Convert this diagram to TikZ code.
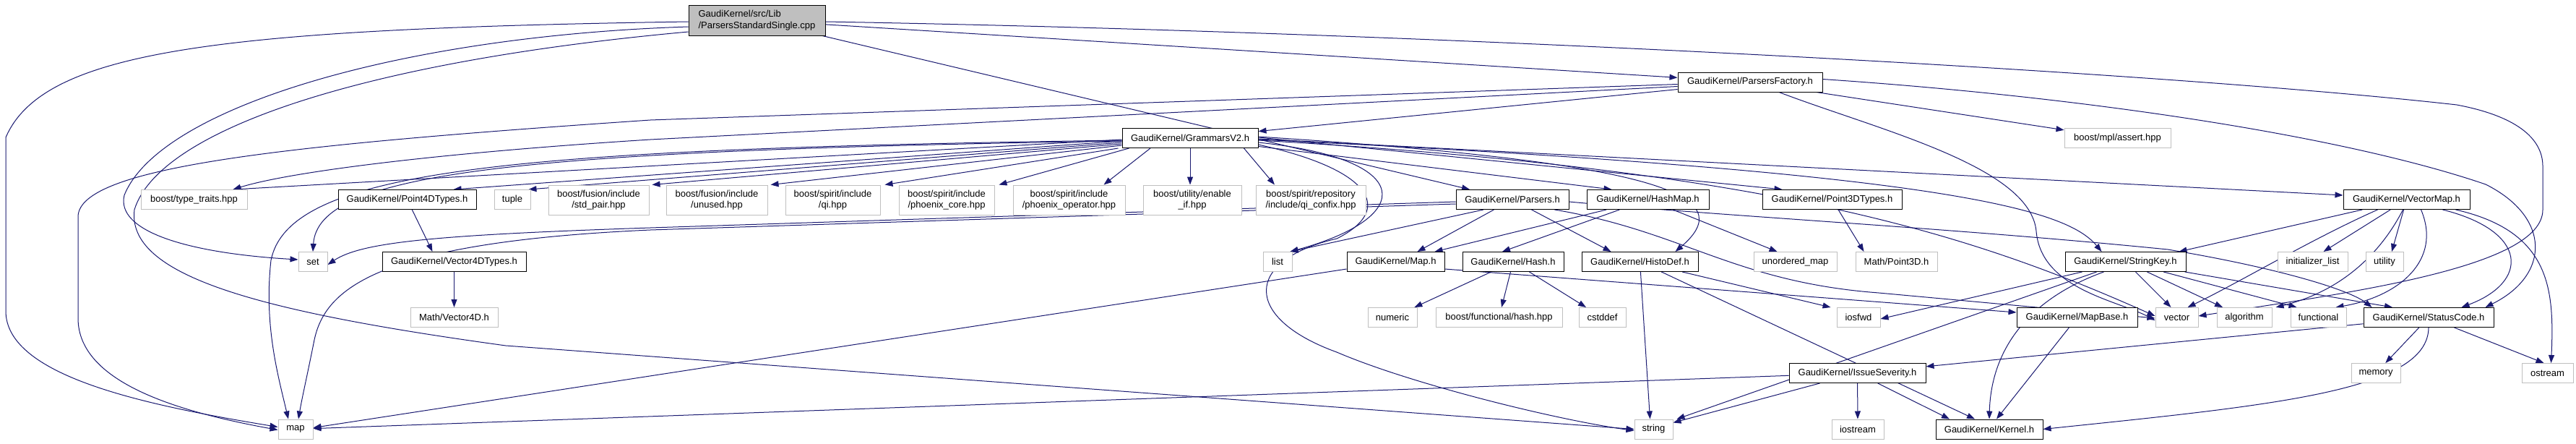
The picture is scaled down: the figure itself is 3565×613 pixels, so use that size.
\documentclass[tikz,border=0pt]{standalone}
\usepackage{fontspec}
\setmainfont{Liberation Sans}
\usetikzlibrary{arrows.meta,backgrounds}
\definecolor{edgeblue}{RGB}{25,25,112}
\definecolor{sysgray}{RGB}{191,191,191}
\tikzstyle{inc edge}=[-{Triangle[length=11pt,width=8pt]},edgeblue,line width=1pt]
\tikzstyle{file node}=[rectangle,draw=black,fill=white,line width=1pt,inner sep=0pt,minimum height=27pt,font=\fontsize{13}{15.5}\selectfont,align=center]
\tikzstyle{sys node}=[draw=sysgray]
\tikzstyle{two lines}=[minimum height=41pt]
\newcommand{\incnode}[3][]{
  \node [file node, #1] (#2) {#3}
}

\begin{document}
\begin{tikzpicture}[x=1pt,y=-1pt]
\useasboundingbox (0,0) rectangle (3565,613);
        \incnode[two lines, fill=sysgray, align=left, minimum height=42pt, at={(1047.5,28)}, minimum width=189pt]{root}{GaudiKernel/src/Lib\\/ParsersStandardSingle.cpp};
        \incnode[at={(2422,113.5)}, minimum width=200pt]{pfac}{GaudiKernel/ParsersFactory.h};
        \incnode[at={(1647,191)}, minimum width=188pt]{gram}{GaudiKernel/GrammarsV2.h};
        \incnode[sys node, at={(2930.5,191)}, minimum width=147pt]{assert}{boost/mpl/assert.hpp};

        \incnode[sys node, at={(268.5,276)}, minimum width=147pt]{ttraits}{boost/type\_traits.hpp};
        \incnode[at={(563.5,276)}, minimum width=191pt]{p4d}{GaudiKernel/Point4DTypes.h};
        \incnode[sys node, at={(709,276)}, minimum width=50pt]{tuple}{tuple};
        \incnode[sys node, two lines, at={(828.5,276.5)}, minimum width=139pt]{stdpair}{boost/fusion/include\\/std\_pair.hpp};
        \incnode[sys node, two lines, at={(992,276.5)}, minimum width=140pt]{unused}{boost/fusion/include\\/unused.hpp};
        \incnode[sys node, two lines, at={(1152.5,276.5)}, minimum width=131pt]{qi}{boost/spirit/include\\/qi.hpp};
        \incnode[sys node, two lines, at={(1310,276.5)}, minimum width=132pt]{pcore}{boost/spirit/include\\/phoenix\_core.hpp};
        \incnode[sys node, two lines, at={(1479.5,276.5)}, minimum width=155pt]{pop}{boost/spirit/include\\/phoenix\_operator.hpp};
        \incnode[sys node, two lines, at={(1650,276.5)}, minimum width=136pt]{enable}{boost/utility/enable\\\_if.hpp};
        \incnode[sys node, two lines, at={(1814,276.5)}, minimum width=152pt]{confix}{boost/spirit/repository\\/include/qi\_confix.hpp};
        \incnode[at={(2093,276)}, minimum width=156pt]{parsers}{GaudiKernel/Parsers.h};
        \incnode[at={(2280.5,276)}, minimum width=169pt]{hashmap}{GaudiKernel/HashMap.h};
        \incnode[at={(2535.5,276)}, minimum width=193pt]{p3d}{GaudiKernel/Point3DTypes.h};
        \incnode[at={(3330.5,276)}, minimum width=175pt]{vmap}{GaudiKernel/VectorMap.h};

        \incnode[sys node, at={(433,362)}, minimum width=40pt]{set}{set};
        \incnode[at={(628.5,362)}, minimum width=199pt]{v4d}{GaudiKernel/Vector4DTypes.h};
        \incnode[sys node, at={(1768,362)}, minimum width=40pt]{list}{list};
        \incnode[at={(1931.5,362)}, minimum width=135pt]{maph}{GaudiKernel/Map.h};
        \incnode[at={(2094,362)}, minimum width=140pt]{hash}{GaudiKernel/Hash.h};
        \incnode[at={(2269.5,362)}, minimum width=161pt]{histo}{GaudiKernel/HistoDef.h};
        \incnode[sys node, at={(2484.5,362)}, minimum width=115pt]{umap}{unordered\_map};
        \incnode[sys node, at={(2624.5,362)}, minimum width=113pt]{mp3d}{Math/Point3D.h};
        \incnode[at={(2941.5,362)}, minimum width=167pt]{skey}{GaudiKernel/StringKey.h};
        \incnode[sys node, at={(3200.5,362)}, minimum width=97pt]{initl}{initializer\_list};
        \incnode[sys node, at={(3300,362)}, minimum width=52pt]{utility}{utility};

        \incnode[sys node, at={(628.5,439)}, minimum width=121pt]{mv4d}{Math/Vector4D.h};
        \incnode[sys node, at={(1927,439)}, minimum width=68pt]{numeric}{numeric};
        \incnode[sys node, at={(2074.5,439)}, minimum width=175pt]{fhash}{boost/functional/hash.hpp};
        \incnode[sys node, at={(2217.5,439)}, minimum width=65pt]{cstddef}{cstddef};
        \incnode[sys node, at={(2572,439)}, minimum width=60pt]{iosfwd}{iosfwd};
        \incnode[at={(2874.5,439)}, minimum width=167pt]{mapbase}{GaudiKernel/MapBase.h};
        \incnode[sys node, at={(3012.5,439)}, minimum width=59pt]{vector}{vector};
        \incnode[sys node, at={(3106,439)}, minimum width=76pt]{algorithm}{algorithm};
        \incnode[sys node, at={(3208.5,439)}, minimum width=77pt]{functional}{functional};
        \incnode[at={(3361,439)}, minimum width=180pt]{status}{GaudiKernel/StatusCode.h};

        \incnode[at={(2570.5,516)}, minimum width=189pt]{issue}{GaudiKernel/IssueSeverity.h};
        \incnode[sys node, at={(3288,516)}, minimum width=68pt]{memory}{memory};
        \incnode[sys node, at={(3525.5,516)}, minimum width=71pt]{ostream}{ostream};

        \incnode[sys node, at={(409,593.5)}, minimum width=48pt]{map}{map};
        \incnode[sys node, at={(2288.5,593.5)}, minimum width=53pt]{string}{string};
        \incnode[sys node, at={(2571,593.5)}, minimum width=72pt]{iostream}{iostream};
        \incnode[at={(2753,593.5)}, minimum width=148pt]{kernel}{GaudiKernel/Kernel.h};

\begin{scope}[on background layer]
      \draw[inc edge] (root) -- (pfac);
      \draw[inc edge] (root) -- (parsers);
      \draw[inc edge] ([yshift=-2pt]root.west) .. controls (300,40) and (60,70) .. (8,190) -- (8,430) .. controls (8,520) and (200,560) .. ([yshift=3pt]map.west);
      \draw[inc edge] ([yshift=-9pt]root.west) .. controls (550,50) and (220,150) .. (172,270) .. controls (160,320) and (260,350) .. ([yshift=3pt]set.west);
      \draw[inc edge] ([yshift=-16pt]root.west) .. controls (500,85) and (220,180) .. (186,290) .. controls (175,380) and (350,430) .. (700,478) -- (string.west);
      \draw[inc edge] ([yshift=-2pt]root.east) .. controls (2000,45) and (3000,100) .. (3400,145) .. controls (3480,160) and (3519,190) .. (3519,230) -- (3519,290) .. controls (3519,370) and (3250,405) .. ([yshift=2pt]vector.east);

      \draw[inc edge] (pfac) -- (gram);
      \draw[inc edge] (pfac) -- (assert);
      \draw[inc edge] ([yshift=-3pt]pfac.west) -- (900,166) .. controls (400,200) and (108,230) .. (108,300) -- (108,440) .. controls (108,530) and (250,570) .. ([yshift=-1pt]map.west);
      \draw[inc edge] ([yshift=-6pt]pfac.west) -- (900,193) .. controls (600,212) and (400,238) .. ([xshift=-20pt]ttraits.north east);
      \draw[inc edge] ([yshift=4pt]pfac.east) .. controls (2900,135) and (3250,190) .. (3440,255) .. controls (3530,300) and (3530,380) .. ([xshift=-12pt]status.north east);
      \draw[inc edge] ([xshift=40pt]pfac.south) .. controls (2600,180) and (2810,230) .. (2818,320) .. controls (2825,400) and (2930,415) .. ([yshift=-4pt]vector.west);

      \draw[inc edge] ([yshift=-2pt]gram.west) -- ([xshift=-20pt]ttraits.north east);
      \draw[inc edge] ([yshift=-4pt]gram.west) -- ([xshift=-32pt]p4d.north east);
      \draw[inc edge] ([yshift=-6pt]gram.west) -- ([xshift=-3pt]tuple.north east);
      \draw[inc edge] ([yshift=-8pt]gram.west) -- ([xshift=4pt]stdpair.north east);
      \draw[inc edge] ([yshift=-10pt]gram.west) -- ([xshift=4pt]unused.north east);
      \draw[inc edge] ([xshift=-5pt]gram.south west) -- ([xshift=6pt]qi.north east);
      \draw[inc edge] ([xshift=10pt]gram.south west) -- ([xshift=6pt]pcore.north east);
      \draw[inc edge] ([xshift=-55pt]gram.south) -- ([xshift=48pt]pop.north);
      \draw[inc edge] (gram) -- ([xshift=-3pt]enable.north);
      \draw[inc edge] ([xshift=-20pt]gram.south east) -- ([xshift=-50pt]confix.north);
      \draw[inc edge] ([yshift=-4pt]gram.west) .. controls (700,208) and (440,240) .. (set.north);
      \draw[inc edge] ([yshift=-3pt]gram.west) .. controls (700,206) and (400,235) .. (375,360) .. controls (365,450) and (385,520) .. ([xshift=-10pt]map.north);
      \draw[inc edge] ([yshift=-6pt]gram.east) .. controls (1960,220) and (1960,300) .. ([xshift=-3pt]list.north east);
      \draw[inc edge] ([yshift=-9pt]gram.east) .. controls (1900,235) and (1930,290) .. (1850,330) .. controls (1720,360) and (1720,440) .. (1850,487) .. controls (1950,530) and (2150,580) .. ([yshift=-2pt]string.west);
      \draw[inc edge] (gram) -- ([xshift=-50pt]hashmap.north);
      \draw[inc edge] ([yshift=2pt]gram.east) .. controls (2300,225) and (2410,270) .. ([xshift=-32pt]histo.north east);
      \draw[inc edge] ([yshift=1pt]gram.east) -- ([xshift=28pt]p3d.north west);
      \draw[inc edge] ([yshift=-1pt]gram.east) -- ([yshift=6pt]vmap.west);
      \draw[inc edge] ([yshift=-2pt]gram.east) .. controls (2700,238) and (2860,290) .. ([xshift=-33pt]skey.north);
      \draw[inc edge] ([yshift=-3pt]gram.east) .. controls (2450,235) and (2720,320) .. ([yshift=2pt]vector.west);

      \draw[inc edge] ([xshift=-40pt]parsers.south) -- ([xshift=-3pt]list.north east);
      \draw[inc edge] (parsers) -- ([xshift=30pt]maph.north);
      \draw[inc edge] (parsers) -- ([xshift=-40pt]histo.north);
      \draw[inc edge] ([yshift=-3pt]parsers.west) -- (900,315) .. controls (600,325) and (500,335) .. ([yshift=-4pt]set.east);
      \draw[inc edge] ([yshift=-6pt]parsers.west) -- (900,318) .. controls (520,335) and (450,400) .. (435,470) .. controls (425,520) and (418,550) .. ([xshift=4pt]map.north);
      \draw[inc edge] ([xshift=-20pt]parsers.south east) .. controls (2330,320) and (2400,390) .. (2600,405) -- ([yshift=-1pt]vector.west);
      \draw[inc edge] ([yshift=-3pt]parsers.east) .. controls (2400,300) and (2700,315) .. (3000,345) .. controls (3150,370) and (3250,400) .. ([xshift=12pt]status.north west);

      \draw[inc edge] (hashmap) -- ([xshift=54pt]maph.north);
      \draw[inc edge] (hashmap) -- ([xshift=-15pt]hash.north);
      \draw[inc edge] (hashmap) -- ([xshift=-25pt]umap.north);
      \draw[inc edge] (p4d) -- ([xshift=-30pt]v4d.north);
      \draw[inc edge] (v4d) -- (mv4d);
      \draw[inc edge] (p3d) -- ([xshift=-45pt]mp3d.north);

      \draw[inc edge] ([yshift=-10pt]maph.west) -- ([yshift=2pt]map.east);
      \draw[inc edge] ([yshift=-10pt]maph.east) -- ([yshift=7pt]mapbase.west);
      \draw[inc edge] (hash) -- (numeric);
      \draw[inc edge] (hash) -- (fhash);
      \draw[inc edge] (hash) -- (cstddef);
      \draw[inc edge] (histo) -- ([xshift=-5pt]string.north);
      \draw[inc edge] (histo) -- ([xshift=-8pt]iosfwd.north west);
      \draw[inc edge] (histo) -- ([xshift=-20pt]kernel.north);

      \draw[inc edge] (skey) -- ([yshift=-2pt]iosfwd.east);
      \draw[inc edge] (skey) -- ([xshift=5pt]string.north east);
      \draw[inc edge] ([xshift=-30pt]skey.south) .. controls (2790,420) and (2755,500) .. (kernel.north);
      \draw[inc edge] (skey) -- ([xshift=-8pt]vector.north);
      \draw[inc edge] (skey) -- ([xshift=-30pt]algorithm.north);
      \draw[inc edge] (skey) -- ([xshift=-30pt]functional.north);
      \draw[inc edge] (skey) -- ([xshift=-50pt]status.north);

      \draw[inc edge] (vmap) -- ([xshift=-10pt]skey.north east);
      \draw[inc edge] (vmap) -- ([xshift=15pt]initl.north);
      \draw[inc edge] (vmap) -- ([xshift=10pt]utility.north);
      \draw[inc edge] ([xshift=-40pt]vmap.south) .. controls (3200,330) and (3100,390) .. ([xshift=15pt]vector.north);
      \draw[inc edge] ([xshift=-5pt]vmap.south) .. controls (3300,340) and (3250,400) .. ([xshift=5pt]algorithm.north east);
      \draw[inc edge] ([xshift=20pt]vmap.south) .. controls (3380,360) and (3320,410) .. ([xshift=-15pt]functional.north east);
      \draw[inc edge] ([xshift=50pt]vmap.south) .. controls (3500,320) and (3500,390) .. ([xshift=-45pt]status.north east);
      \draw[inc edge] ([xshift=-20pt]vmap.south east) .. controls (3530,320) and (3535,400) .. ([xshift=5pt]ostream.north);

      \draw[inc edge] (mapbase) -- ([xshift=10pt]kernel.north);
      \draw[inc edge] (status) -- (issue);
      \draw[inc edge] (status) -- (memory);
      \draw[inc edge] (status) -- ([xshift=-5pt]ostream.north);
      \draw[inc edge] (status.south) .. controls (3360,540) and (3150,560) .. (kernel.east);

      \draw[inc edge] (issue) -- (map);
      \draw[inc edge] (issue) -- ([yshift=-5pt]string.north east);
      \draw[inc edge] (issue) -- (iostream);
      \draw[inc edge] (issue) -- ([xshift=-55pt]kernel.north);
\end{scope}
\end{tikzpicture}
\end{document}
